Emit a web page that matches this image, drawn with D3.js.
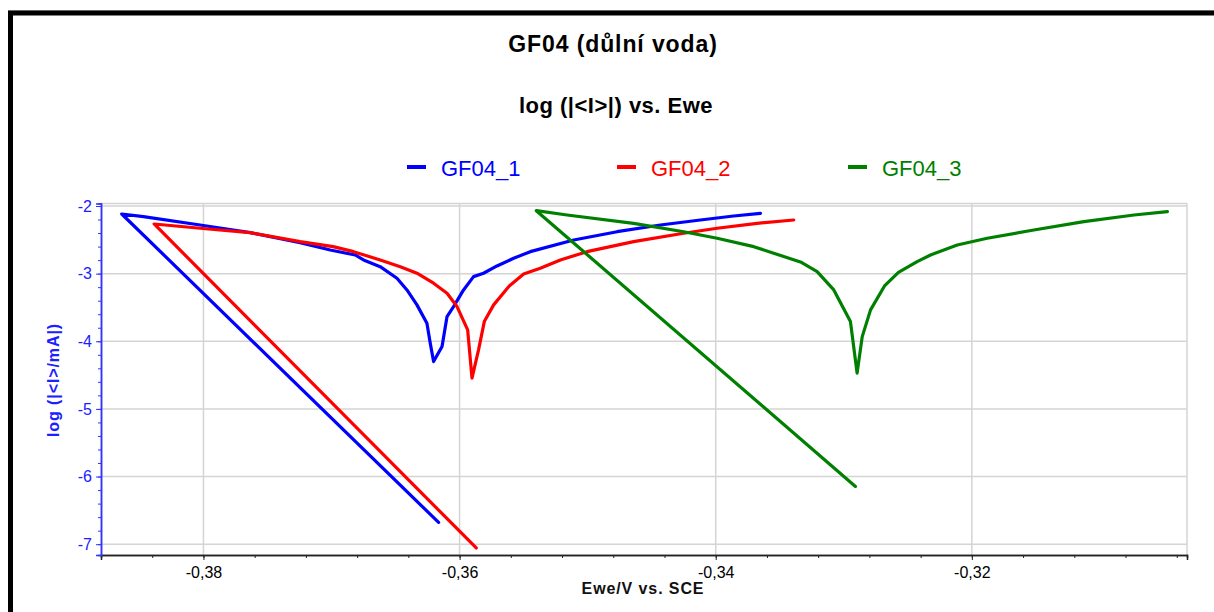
<!DOCTYPE html>
<html>
<head>
<meta charset="utf-8">
<script src="https://cdn.jsdelivr.net/npm/d3@7"></script>
<style>
  html, body { margin: 0; padding: 0; background: #ffffff; }
  svg { display: block; font-family: "Liberation Sans", Arial, sans-serif; }
</style>
</head>
<body>
<svg id="chart" width="1214" height="612"></svg>
<script>
// ---------- data ----------
const seriesNames = ["GF04_1", "GF04_2", "GF04_3"];
const seriesColors = ["#0000ff", "#ff0000", "#008000"];

const gf04_1_ewe = [-0.36164, -0.38638, -0.38469, -0.38026, -0.37635, -0.37245, -0.3701, -0.36815, -0.3675, -0.3662, -0.36489, -0.36411, -0.36333, -0.36255, -0.36229, -0.36203, -0.36137, -0.36098, -0.36047, -0.35969, -0.35891, -0.35813, -0.35708, -0.35578, -0.35448, -0.35109, -0.3477, -0.34432, -0.3412, -0.3386, -0.33651];
const gf04_1_logI = [-6.678, -2.118, -2.158, -2.281, -2.394, -2.542, -2.650, -2.724, -2.798, -2.897, -3.068, -3.241, -3.462, -3.733, -4.028, -4.300, -4.078, -3.635, -3.487, -3.241, -3.044, -2.994, -2.886, -2.773, -2.675, -2.502, -2.380, -2.281, -2.207, -2.148, -2.108];

const gf04_2_ewe = [-0.3587, -0.38385, -0.38026, -0.37635, -0.37245, -0.36987, -0.36828, -0.3662, -0.36463, -0.36333, -0.36203, -0.36098, -0.3602, -0.35937, -0.35903, -0.35852, -0.35807, -0.35734, -0.35612, -0.3550, -0.3537, -0.35213, -0.35005, -0.34641, -0.3425, -0.33989, -0.33677, -0.33391];
const gf04_2_logI = [-7.056, -2.266, -2.329, -2.394, -2.527, -2.601, -2.675, -2.798, -2.897, -2.994, -3.142, -3.290, -3.487, -3.832, -4.545, -4.127, -3.709, -3.462, -3.182, -3.004, -2.920, -2.798, -2.675, -2.527, -2.403, -2.329, -2.256, -2.207];

const gf04_3_ewe = [-0.32909, -0.35401, -0.35161, -0.34641, -0.3425, -0.33989, -0.33703, -0.33547, -0.33338, -0.33208, -0.33078, -0.32948, -0.32896, -0.32856, -0.32791, -0.32682, -0.32573, -0.32427, -0.32323, -0.32114, -0.3188, -0.31516, -0.31125, -0.30734, -0.30473];
const gf04_3_logI = [-6.146, -2.069, -2.133, -2.256, -2.380, -2.477, -2.601, -2.699, -2.827, -2.970, -3.241, -3.709, -4.471, -3.931, -3.536, -3.182, -2.982, -2.823, -2.724, -2.576, -2.477, -2.355, -2.232, -2.133, -2.084];

const xMajorTicks = [-0.38, -0.36, -0.34, -0.32];
const xMinorTicks = [-0.384, -0.38, -0.376, -0.372, -0.368, -0.364, -0.36, -0.356, -0.352, -0.348, -0.344, -0.34, -0.336, -0.332, -0.328, -0.324, -0.32, -0.316, -0.312, -0.308, -0.304];
const yMajorTicks = [-2, -3, -4, -5, -6, -7];
const yMinorTicks = [-2, -2.2, -2.4, -2.6, -2.8, -3, -3.2, -3.4, -3.6, -3.8, -4, -4.2, -4.4, -4.6, -4.8, -5, -5.2, -5.4, -5.6, -5.8, -6, -6.2, -6.4, -6.6, -6.8, -7];

const titleText = "GF04 (důlní voda)";
const subtitleText = "log (|<I>|) vs. Ewe";
const xTitle = "Ewe/V vs. SCE";
const yTitle = "log (|<I>/mA|)";

// ---------- layout ----------
const svg = d3.select("#chart");
const plot = { left: 101, right: 1187, top: 203.5, bottom: 555 };
const x = d3.scaleLinear().domain([-0.388, -0.3032]).range([plot.left, plot.right]);
const y = d3.scaleLinear().domain([-7.16, -1.963]).range([plot.bottom, plot.top]);

const loc = d3.formatLocale({ decimal: ",", thousands: " ", grouping: [3], currency: ["", ""], minus: "-" });
const fx = loc.format(".2f");
const fy = loc.format("d");

// outer frame
svg.append("rect").attr("x", 0).attr("y", 0).attr("width", 1214).attr("height", 612).attr("fill", "#ffffff");
svg.append("line").attr("x1", 8).attr("x2", 1214).attr("y1", 10.5).attr("y2", 10.5).attr("stroke", "#c8c8c8").attr("stroke-width", 1);
svg.append("line").attr("x1", 8).attr("x2", 1214).attr("y1", 13).attr("y2", 13).attr("stroke", "#000").attr("stroke-width", 5);
svg.append("line").attr("x1", 10.5).attr("x2", 10.5).attr("y1", 11).attr("y2", 612).attr("stroke", "#000").attr("stroke-width", 5);

// titles
svg.append("text").attr("x", 613).attr("y", 52).attr("text-anchor", "middle")
  .attr("font-size", 23).attr("font-weight", "bold").attr("letter-spacing", 0.9).attr("fill", "#000").text(titleText);
svg.append("text").attr("x", 616).attr("y", 113).attr("text-anchor", "middle")
  .attr("font-size", 22).attr("font-weight", "bold").attr("letter-spacing", 0.5).attr("fill", "#000").text(subtitleText);

// legend
const legendX = [407, 617, 848];
const legend = svg.append("g");
seriesNames.forEach((n, i) => {
  legend.append("line").attr("x1", legendX[i]).attr("x2", legendX[i] + 19).attr("y1", 167).attr("y2", 167)
    .attr("stroke", seriesColors[i]).attr("stroke-width", 4);
  legend.append("text").attr("x", legendX[i] + 34).attr("y", 176).attr("font-size", 22)
    .attr("fill", seriesColors[i]).text(n);
});

// gridlines
const grid = svg.append("g");
grid.selectAll(".gx").data(xMajorTicks).join("line")
  .attr("x1", d => x(d)).attr("x2", d => x(d)).attr("y1", plot.top).attr("y2", plot.bottom)
  .attr("stroke", "#d4d4d4").attr("stroke-width", 1.5);
grid.selectAll(".gy").data(yMajorTicks).join("line")
  .attr("x1", plot.left).attr("x2", plot.right).attr("y1", d => y(d)).attr("y2", d => y(d))
  .attr("stroke", "#d4d4d4").attr("stroke-width", 1.5);
// plot border (top/right)
svg.append("line").attr("x1", plot.left).attr("x2", plot.right).attr("y1", plot.top).attr("y2", plot.top)
  .attr("stroke", "#d4d4d4").attr("stroke-width", 1.5);
svg.append("line").attr("x1", plot.right).attr("x2", plot.right).attr("y1", plot.top).attr("y2", plot.bottom)
  .attr("stroke", "#d4d4d4").attr("stroke-width", 1.5);

// x axis
const xAxisMinor = d3.axisBottom(x).tickValues(xMinorTicks).tickSize(3).tickFormat("");
const xAxisMajor = d3.axisBottom(x).tickValues(xMajorTicks).tickSize(5).tickPadding(7).tickFormat(fx);
const gxMinor = svg.append("g").attr("transform", `translate(0,${plot.bottom})`).call(xAxisMinor);
const gxMajor = svg.append("g").attr("transform", `translate(0,${plot.bottom})`).call(xAxisMajor);
[gxMinor, gxMajor].forEach(g => {
  g.select(".domain").attr("stroke", "#222").attr("stroke-width", 1.5);
  g.selectAll(".tick line").attr("stroke", "#222");
});
gxMajor.selectAll(".tick text").attr("font-size", 16).attr("fill", "#000")
  .attr("font-family", "Liberation Sans, Arial, sans-serif");

// y axis
const yAxisMinor = d3.axisLeft(y).tickValues(yMinorTicks).tickSize(3).tickFormat("");
const yAxisMajor = d3.axisLeft(y).tickValues(yMajorTicks).tickSize(5).tickPadding(4).tickFormat(fy);
const gyMinor = svg.append("g").attr("transform", `translate(${plot.left},0)`).call(yAxisMinor);
const gyMajor = svg.append("g").attr("transform", `translate(${plot.left},0)`).call(yAxisMajor);
[gyMinor, gyMajor].forEach(g => {
  g.select(".domain").attr("stroke", "#3333ff").attr("stroke-width", 1.5);
  g.selectAll(".tick line").attr("stroke", "#3333ff");
});
gyMajor.selectAll(".tick text").attr("font-size", 16).attr("fill", "#2020ff")
  .attr("font-family", "Liberation Sans, Arial, sans-serif");

// axis titles
svg.append("text").attr("x", 643).attr("y", 594).attr("text-anchor", "middle")
  .attr("font-size", 16).attr("font-weight", "bold").attr("letter-spacing", 0.9).attr("fill", "#111").text(xTitle);
svg.append("text").attr("transform", "translate(59,380) rotate(-90)").attr("text-anchor", "middle")
  .attr("font-size", 16).attr("font-weight", "bold").attr("letter-spacing", 0.9).attr("fill", "#2020ff").text(yTitle);

// series
const seriesX = [gf04_1_ewe, gf04_2_ewe, gf04_3_ewe];
const seriesY = [gf04_1_logI, gf04_2_logI, gf04_3_logI];
const line = d3.line().x(d => x(d[0])).y(d => y(d[1]));
svg.append("clipPath").attr("id", "plotclip").append("rect")
  .attr("x", plot.left).attr("y", plot.top).attr("width", plot.right - plot.left).attr("height", plot.bottom - plot.top);
seriesNames.forEach((n, i) => {
  const pts = seriesX[i].map((v, k) => [v, seriesY[i][k]]);
  svg.append("path").datum(pts).attr("d", line)
    .attr("fill", "none").attr("stroke", seriesColors[i]).attr("stroke-width", 3.2)
    .attr("stroke-linejoin", "round").attr("stroke-linecap", "round")
    .attr("clip-path", "url(#plotclip)");
});
</script>
</body>
</html>
